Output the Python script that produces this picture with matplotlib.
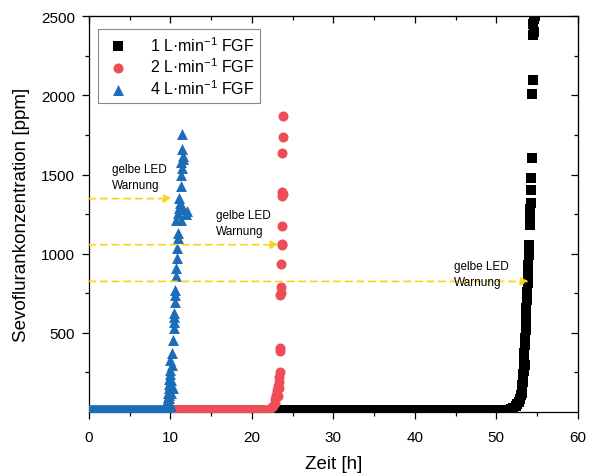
import matplotlib.pyplot as plt
import numpy as np

plt.rcParams['font.family'] = ['Liberation Sans', 'DejaVu Sans']
plt.rcParams['mathtext.fontset'] = 'custom'
plt.rcParams['mathtext.rm'] = 'Liberation Sans'
plt.rcParams['mathtext.it'] = 'Liberation Sans:italic'

# measured sampling step of the sensor log [h]
dt = 0.04

# flat phase (before the rise), concentration ~ 10 ppm
blue_flat = (0.0, 9.5, 10)
red_flat = (10.3, 21.5, 10)
black_flat = (23.5, 51.0, 10)

# rising phase
blue_t = [9.5, 9.55, 9.6, 9.65, 9.7, 9.75, 9.8, 9.85, 9.9, 9.95, 10.0, 10.05, 10.1,
          9.7, 9.9, 10.1, 10.3, 10.0, 10.2, 10.25, 10.35, 10.4, 10.45, 10.5, 10.55, 10.6,
          10.7, 10.75, 10.8, 10.85, 10.9, 10.7, 11.0, 11.1, 11.3, 11.6, 11.9, 12.1,
          11.1, 11.3, 11.3, 11.4, 11.3, 11.5, 11.4, 11.5, 11.4, 10.5, 10.6, 10.9, 11.2,
          9.4, 9.6, 9.8, 10.0]
blue_y = [15, 30, 45, 70, 95, 120, 150, 180, 210, 240, 266, 200, 120,
          60, 90, 40, 150, 330, 300, 373, 456, 532, 570, 626, 696, 772,
          860, 911, 970, 1038, 1133, 1215, 1260, 1290, 1215, 1280, 1250, 1270,
          1354, 1425, 1500, 1540, 1580, 1620, 1660, 1600, 1753, 600, 740, 1100, 1320,
          25, 70, 110, 170]

red_t = [21.5, 21.8, 22.1, 22.4, 22.6, 22.8, 22.9, 23.0, 23.1, 23.2, 23.3, 23.35,
         23.4, 23.45, 23.45, 23.5, 23.55, 23.55, 23.6, 23.65, 23.65, 23.7, 23.7,
         23.75, 23.75, 23.8, 23.8, 23.8, 23.2, 23.3]
red_y = [12, 15, 20, 28, 40, 60, 85, 110, 140, 165, 188, 221,
         250, 385, 405, 740, 750, 791, 937, 1052, 1060, 1177, 1367,
         1390, 1639, 1740, 1867, 1380, 100, 150]

black_t = [51.2, 51.5, 51.8, 52.1, 52.4, 52.6, 52.8, 52.95, 53.05, 53.15, 53.2, 53.25,
           53.3, 53.35, 53.4, 53.45, 53.5, 53.55, 53.6, 53.6, 53.65, 53.7, 53.75, 53.8,
           53.85, 53.9, 53.9, 54.0, 54.0, 54.05, 54.1, 54.1, 54.15, 54.2, 54.2, 54.3,
           54.4, 54.45, 54.6, 54.5, 54.6, 54.7, 54.4, 54.55, 53.4, 53.5, 53.3, 53.2]
black_y = [12, 15, 20, 28, 38, 50, 65, 85, 110, 140, 170, 200,
           240, 280, 330, 370, 424, 470, 519, 560, 614, 660, 709, 760,
           816, 870, 930, 990, 1030, 1057, 1180, 1230, 1280, 1320, 1405, 1480,
           2010, 2100, 2400, 2450, 2480, 2500, 1607, 2380, 260, 300, 190, 120]

labels = ["1 L·min$^{-1}$ FGF", "2 L·min$^{-1}$ FGF", "4 L·min$^{-1}$ FGF"]

# warning annotations: arrow level, arrow end, text position
warn_y = [1348, 1057, 825]
warn_x = [10.2, 23.3, 54.0]
warn_text_xy = [(2.8, 1575), (15.6, 1280), (44.8, 960)]

c_black = "#000000"
c_red = "#EE4D57"
c_blue = "#1B6DB8"
c_yellow = "#F7D31A"


def flat(seg):
    t = np.arange(seg[0], seg[1], dt)
    return t, np.full(len(t), seg[2])


fig = plt.figure(figsize=(5.92, 4.77), dpi=100)
ax = fig.add_axes([0.150, 0.134, 0.826, 0.830])

bt, by = flat(black_flat)
ax.scatter(np.concatenate([bt, black_t]), np.concatenate([by, black_y]),
           marker="s", s=42, color=c_black, linewidths=0, label=labels[0], zorder=3)
rt, ry = flat(red_flat)
ax.scatter(np.concatenate([rt, red_t]), np.concatenate([ry, red_y]),
           marker="o", s=52, color=c_red, linewidths=0, label=labels[1], zorder=3)
ut, uy = flat(blue_flat)
ax.scatter(np.concatenate([ut, blue_t]), np.concatenate([uy, blue_y]),
           marker="^", s=62, color=c_blue, linewidths=0, label=labels[2], zorder=3)

for i in range(3):
    ax.annotate("", xy=(warn_x[i], warn_y[i]), xytext=(0, warn_y[i]),
                arrowprops=dict(arrowstyle="-|>", color=c_yellow, lw=1.2,
                                linestyle=(0, (4, 3)), mutation_scale=12,
                                shrinkA=0, shrinkB=0), zorder=4)
    ax.text(warn_text_xy[i][0], warn_text_xy[i][1], "gelbe LED\nWarnung",
            fontsize=8.5, va="top", ha="left", linespacing=1.45, zorder=5)

ax.set_xlim(0, 60)
ax.set_ylim(0, 2500)
ax.set_xticks([0, 10, 20, 30, 40, 50, 60])
ax.set_xticks(np.arange(5, 60, 10), minor=True)
ax.set_yticks([500, 1000, 1500, 2000, 2500])
ax.set_yticks([250, 750, 1250, 1750, 2250], minor=True)
ax.tick_params(axis="both", which="major", labelsize=11, direction="out",
               length=5, width=0.9, pad=5)
ax.tick_params(axis="x", which="major", pad=8)
ax.tick_params(axis="both", which="minor", direction="out", length=3, width=0.9)

# inward ticks on the top and right frame
top = ax.secondary_xaxis("top")
top.set_xticks([0, 10, 20, 30, 40, 50, 60])
top.set_xticks(np.arange(5, 60, 10), minor=True)
top.tick_params(which="major", direction="in", length=5, width=0.9, labeltop=False)
top.tick_params(which="minor", direction="in", length=3, width=0.9)
right = ax.secondary_yaxis("right")
right.set_yticks([500, 1000, 1500, 2000, 2500])
right.set_yticks([250, 750, 1250, 1750, 2250], minor=True)
right.tick_params(which="major", direction="in", length=5, width=0.9, labelright=False)
right.tick_params(which="minor", direction="in", length=3, width=0.9)

for s in ax.spines.values():
    s.set_linewidth(0.9)

ax.set_xlabel("Zeit [h]", fontsize=13.5, labelpad=8)
ax.set_ylabel("Sevoflurankonzentration [ppm]", fontsize=13.5, labelpad=8)

leg = ax.legend(loc="upper left", fontsize=11.5, frameon=True, fancybox=False,
                edgecolor="#888888", framealpha=1, borderpad=0.35,
                handlelength=1.8, handletextpad=1.1, labelspacing=0.2,
                borderaxespad=0, bbox_to_anchor=(0.018, 0.967))
leg.get_frame().set_linewidth(0.8)

fig.savefig("out.png", dpi=100)
